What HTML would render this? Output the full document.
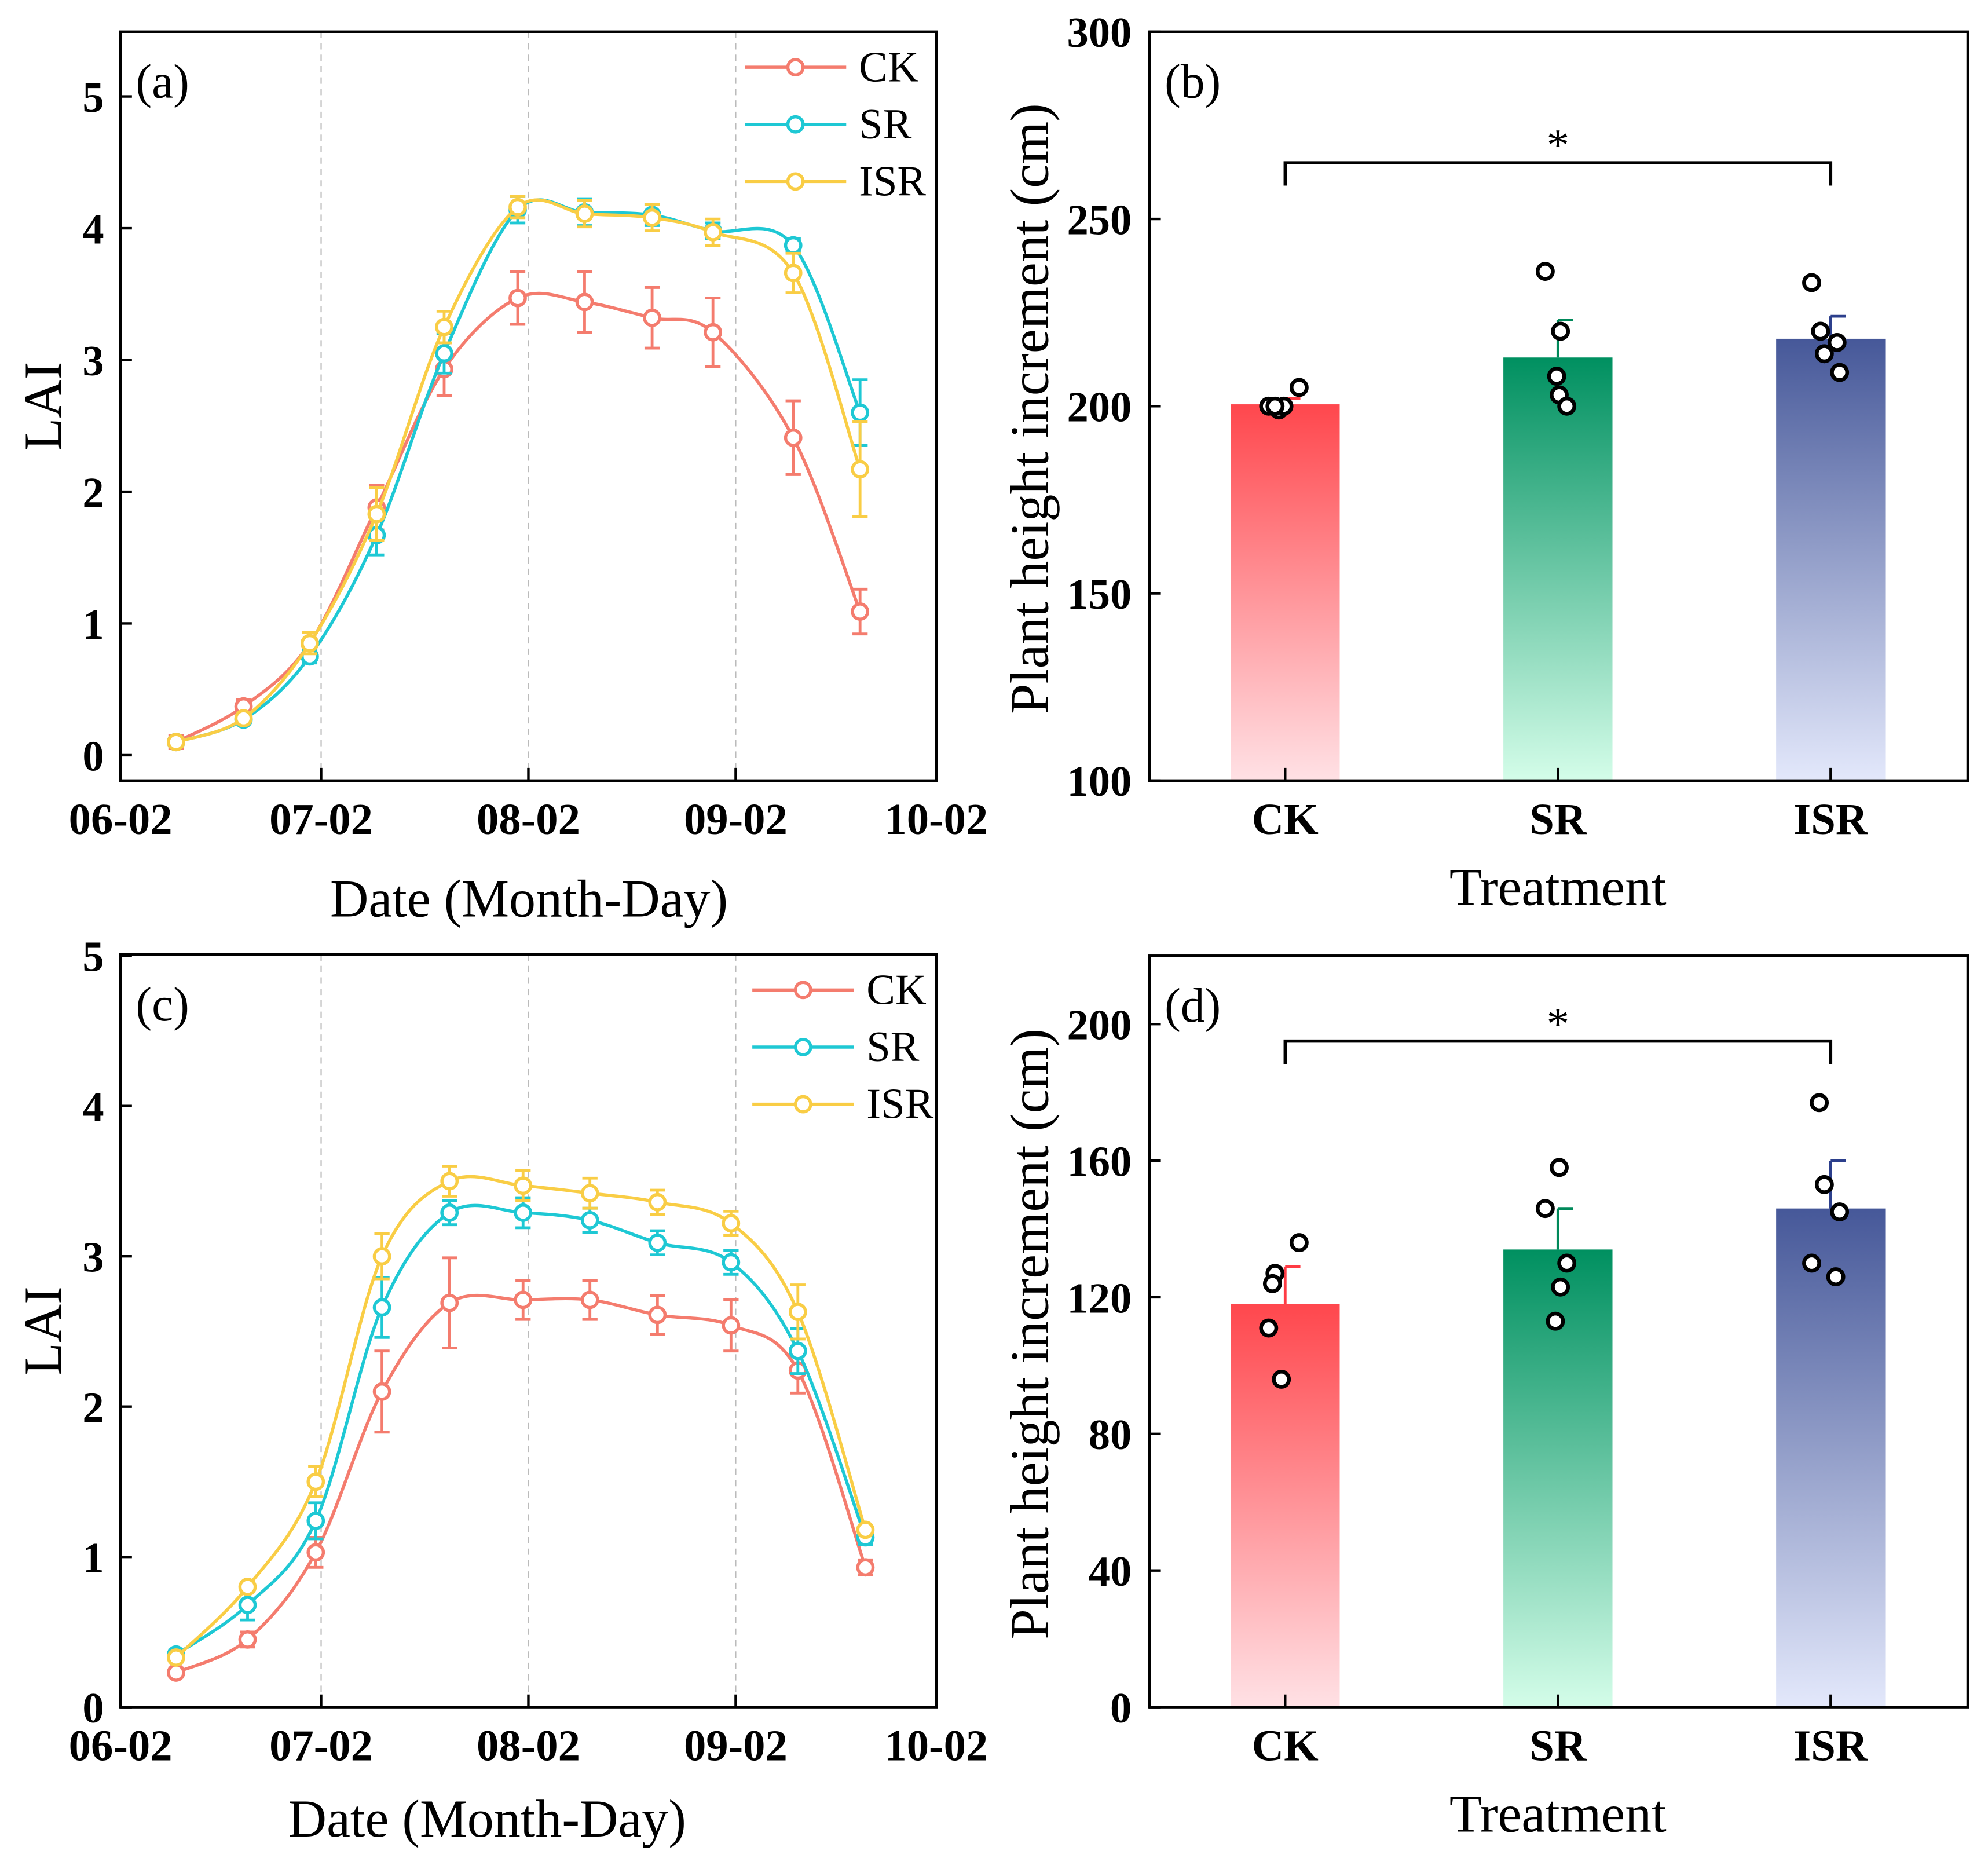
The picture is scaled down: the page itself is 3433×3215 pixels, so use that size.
<!DOCTYPE html>
<html><head><meta charset="utf-8"><style>
html,body{margin:0;padding:0;background:#fff}
svg{display:block}
text{font-family:"Liberation Serif",serif;fill:#000}
</style></head><body>
<svg id="fig" width="3433" height="3215" viewBox="0 0 1567 1467" preserveAspectRatio="none" xmlns="http://www.w3.org/2000/svg">
<defs>
<linearGradient id="gCK" x1="0" y1="0" x2="0" y2="1"><stop offset="0" stop-color="#ff474d"/><stop offset="1" stop-color="#ffe1e5"/></linearGradient>
<linearGradient id="gSR" x1="0" y1="0" x2="0" y2="1"><stop offset="0" stop-color="#009060"/><stop offset="1" stop-color="#d4fde9"/></linearGradient>
<linearGradient id="gISR" x1="0" y1="0" x2="0" y2="1"><stop offset="0" stop-color="#465899"/><stop offset="1" stop-color="#e3e8fb"/></linearGradient>
</defs>
</svg>
<script>
// ---- Line chart data (LAI) ----
const xTickLabels = ["06-02","07-02","08-02","09-02","10-02"];
const xTickDays = [0,30,61,92,122];
const daysA = [8.3,18.4,28.3,38.3,48.4,59.4,69.4,79.5,88.6,100.6,110.6];
const ckA = [0.1,0.37,0.85,1.88,2.93,3.47,3.44,3.32,3.21,2.41,1.09];
const ckAerr = [0.05,0.05,0.08,0.17,0.2,0.2,0.23,0.23,0.26,0.28,0.17];
const srA = [0.1,0.27,0.75,1.67,3.05,4.14,4.12,4.1,3.98,3.87,2.6];
const srAerr = [0.03,0.03,0.05,0.15,0.15,0.1,0.1,0.08,0.06,0.05,0.25];
const isrA = [0.1,0.28,0.85,1.83,3.25,4.16,4.11,4.08,3.97,3.66,2.17];
const isrAerr = [0.03,0.03,0.08,0.2,0.12,0.08,0.1,0.1,0.1,0.15,0.36];
const daysC = [8.3,19,29.2,39.1,49.2,60.2,70.2,80.3,91.3,101.3,111.4];
const ckC = [0.23,0.45,1.03,2.1,2.69,2.71,2.71,2.61,2.54,2.24,0.93];
const ckCerr = [0.03,0.05,0.1,0.27,0.3,0.13,0.13,0.13,0.17,0.15,0.05];
const srC = [0.35,0.68,1.24,2.66,3.29,3.29,3.24,3.09,2.96,2.37,1.13];
const srCerr = [0.03,0.1,0.12,0.2,0.08,0.1,0.08,0.08,0.08,0.15,0.05];
const isrC = [0.33,0.8,1.5,3.0,3.5,3.47,3.42,3.36,3.22,2.63,1.18];
const isrCerr = [0.03,0.03,0.1,0.15,0.1,0.1,0.1,0.08,0.08,0.18,0.03];
const seriesNames = ["CK","SR","ISR"];
const yTicksA = [0,1,2,3,4,5];
const yTicksC = [0,1,2,3,4,5];
// ---- Bar chart data ----
const treatments = ["CK","SR","ISR"];
const barB = [200.5,213,218];
const barBerr = [1.5,10,6];
const ptsB = [[200,199,200,205,200],[236,220,208,203,200],[233,220,217,214,209]];
const yTicksB = [100,150,200,250,300];
const barD = [118,134,146];
const barDerr = [11,12,14];
const ptsD = [[136,127,124,111,96],[158,146,130,123,113],[177,153,145,130,126]];
const yTicksD = [0,40,80,120,160,200];

const NS="http://www.w3.org/2000/svg";
const svg=document.getElementById('fig');
const colors=["#f47c6e","#1ec8d4","#f9cd45"];
const barColors=["#ff3b44","#00895a","#2c3f8c"];
const grads=["url(#gCK)","url(#gSR)","url(#gISR)"];
function mk(tag,attrs,parent){const e=document.createElementNS(NS,tag);for(const k in attrs)e.setAttribute(k,attrs[k]);(parent||svg).appendChild(e);return e;}
function txt(s,attrs,parent){const e=mk('text',attrs,parent);e.textContent=s;return e;}
function spline(pts){let d=`M${pts[0][0]},${pts[0][1]}`;for(let i=0;i<pts.length-1;i++){const p0=pts[Math.max(0,i-1)],p1=pts[i],p2=pts[i+1],p3=pts[Math.min(pts.length-1,i+2)];const c1=[p1[0]+(p2[0]-p0[0])/6,p1[1]+(p2[1]-p0[1])/6];const c2=[p2[0]-(p3[0]-p1[0])/6,p2[1]-(p3[1]-p1[1])/6];d+=` C${c1[0]},${c1[1]} ${c2[0]},${c2[1]} ${p2[0]},${p2[1]}`;}return d;}

function linePanel(o){
  const g=mk('g',{});
  
  
  const X=d=>o.x0+(o.x1-o.x0)*d/122;
  const Y=v=>o.y0-(v)*o.ppu;
  const bottom=o.y0+o.pad;
  [1,2,3].forEach(i=>{const l=mk('line',{x1:X(xTickDays[i]),x2:X(xTickDays[i]),y1:o.top,y2:bottom,stroke:'#bbb','stroke-dasharray':'5,4','stroke-width':1},g);});
  const fr=mk('rect',{x:o.x0,y:o.top,width:o.x1-o.x0,height:bottom-o.top,fill:'none',stroke:'#000','stroke-width':2},g);
  
  xTickLabels.forEach((s,i)=>{const x=X(xTickDays[i]);mk('line',{x1:x,x2:x,y1:bottom,y2:bottom-10,stroke:'#000','stroke-width':2},g);const t=txt(s,{x:x,y:bottom+42,'text-anchor':'middle','font-size':35,'font-weight':'bold'},g);});
  o.yTicks.forEach(v=>{const y=Y(v);mk('line',{x1:o.x0,x2:o.x0+9,y1:y,y2:y,stroke:'#000','stroke-width':2},g);const t=txt(String(v),{x:o.x0-13,y:y+12,'text-anchor':'end','font-size':34,'font-weight':'bold'},g);});
  const yt=txt('LAI',{x:0,y:0,'font-size':42,'text-anchor':'middle',transform:`translate(48,${(o.top+bottom)/2}) rotate(-90)`},g);
  
  const xt=txt('Date (Month-Day)',{x:o.xtX,y:bottom+o.xtDy,'font-size':42,'text-anchor':'middle'},g);
  
  const pl=txt(o.label,{x:o.x0+12,y:o.top+52,'font-size':38},g);
  
  o.series.forEach((s,si)=>{
    const sg=mk('g',{},g);
    
    
    const pts=s.v.map((v,i)=>[X(o.days[i]),Y(v)]);
    mk('path',{d:spline(pts),fill:'none',stroke:colors[si],'stroke-width':2.5},sg);
    s.v.forEach((v,i)=>{const x=X(o.days[i]);const e=s.e[i];
      const eb=mk('path',{d:`M${x},${Y(v+e)}V${Y(v-e)}M${x-6},${Y(v+e)}H${x+6}M${x-6},${Y(v-e)}H${x+6}`,stroke:colors[si],'stroke-width':2.2,fill:'none'},sg);
      
      const c=mk('circle',{cx:x,cy:Y(v),r:6,fill:'#fff',stroke:colors[si],'stroke-width':2.5},sg);
      
    });
  });
  seriesNames.forEach((n,i)=>{const y=o.legY+i*45;const lg=mk('g',{},g);
    
    mk('line',{x1:o.legX,x2:o.legX+80,y1:y,y2:y,stroke:colors[i],'stroke-width':2.5},lg);
    mk('circle',{cx:o.legX+40,cy:y,r:6,fill:'#fff',stroke:colors[i],'stroke-width':2.5},lg);
    txt(n,{x:o.legX+90,y:y+11,'font-size':34},lg);});
}
linePanel({name:'panel-a-lai-chart',x0:95,x1:738,top:25,y0:595,pad:20,ppu:103.8,yTicks:yTicksA,days:daysA,label:'(a)',xtX:417,xtDy:107,legX:587,legY:53,
  series:[{v:ckA,e:ckAerr},{v:srA,e:srAerr},{v:isrA,e:isrAerr}]});
linePanel({name:'panel-c-lai-chart',x0:95,x1:738,top:752,y0:1345,pad:0,ppu:118.4,yTicks:yTicksC,days:daysC,label:'(c)',xtX:384,xtDy:102,legX:593,legY:780,
  series:[{v:ckC,e:ckCerr},{v:srC,e:srCerr},{v:isrC,e:isrCerr}]});

function barPanel(o){
  const g=mk('g',{});
  
  
  const L=906,R=1551;
  const Y=v=>o.bottom-(v-o.ymin)*(o.bottom-o.top)/(o.ymax-o.ymin);
  const cx=[1013,1228,1443];
  treatments.forEach((t,i)=>{
    const b=mk('rect',{x:cx[i]-43,y:Y(o.bars[i]),width:86,height:o.bottom-Y(o.bars[i]),fill:grads[i]},g);
    
    const top=Y(o.bars[i]+o.errs[i]);
    const eb=mk('path',{d:`M${cx[i]},${Y(o.bars[i])}V${top}M${cx[i]},${top}H${cx[i]+12}`,stroke:barColors[i],'stroke-width':2.2,fill:'none'},g);
    
    const offs=o.offs[i];
    o.pts[i].forEach((v,j)=>{const c=mk('circle',{cx:cx[i]+offs[j],cy:Y(v),r:6,fill:'#fff',stroke:'#000','stroke-width':3},g);
      });
    mk('line',{x1:cx[i],x2:cx[i],y1:o.bottom,y2:o.bottom-10,stroke:'#000','stroke-width':2},g);
    const tl=txt(t,{x:cx[i],y:o.bottom+42,'text-anchor':'middle','font-size':35,'font-weight':'bold'},g);
    
  });
  const fr=mk('rect',{x:L,y:o.top0,width:R-L,height:o.bottom-o.top0,fill:'none',stroke:'#000','stroke-width':2},g);
  
  o.yTicks.forEach(v=>{const y=Y(v);mk('line',{x1:L,x2:L+9,y1:y,y2:y,stroke:'#000','stroke-width':2},g);
    const t=txt(String(v),{x:L-14,y:y+12,'text-anchor':'end','font-size':34,'font-weight':'bold'},g);
    });
  const yt=txt('Plant height increment (cm)',{x:0,y:0,'font-size':43,'text-anchor':'middle',transform:`translate(826,${(o.top0+o.bottom)/2+2}) rotate(-90)`},g);
  
  const xt=txt('Treatment',{x:1228,y:o.bottom+98,'font-size':42,'text-anchor':'middle'},g);
  
  const pl=txt(o.label,{x:918,y:o.top0+52,'font-size':38},g);
  
  const by=Y(o.sig);
  const br=mk('path',{d:`M1013,${by+18}V${by}H1443V${by+18}`,stroke:'#000','stroke-width':2.5,fill:'none'},g);
  
  const st=txt('*',{x:1228,y:by-2,'text-anchor':'middle','font-size':36},g);
  
}
barPanel({name:'panel-b-bar-chart',top0:25,top:25,bottom:615,ymin:100,ymax:300,bars:barB,errs:barBerr,pts:ptsB,yTicks:yTicksB,label:'(b)',sig:265,
  offs:[[-13,-5,-1,11,-8],[-10,2,-1,1,7],[-15,-8,5,-5,7]]});
barPanel({name:'panel-d-bar-chart',top0:753,top:753,bottom:1345,ymin:0,ymax:220,bars:barD,errs:barDerr,pts:ptsD,yTicks:yTicksD,label:'(d)',sig:195,
  offs:[[11,-8,-10,-13,-3],[1,-10,7,2,-2],[-9,-5,7,-15,4]]});
</script>
</body></html>
